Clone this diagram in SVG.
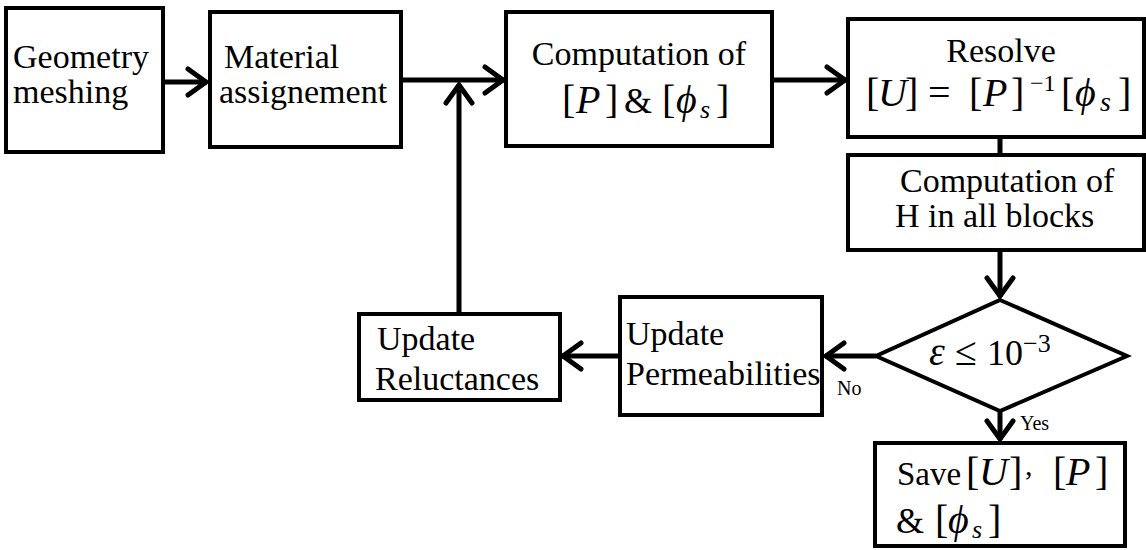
<svg xmlns="http://www.w3.org/2000/svg" width="1146" height="550" viewBox="0 0 1146 550" font-family="'Liberation Serif', 'DejaVu Serif', serif">
<style>
text{font-family:'Liberation Serif','DejaVu Serif',serif;fill:#000}
.box{fill:#fff;stroke:#000;stroke-width:4}
.t{font-size:34px}
.m{font-size:40px}
.i{font-style:italic}
.sm{font-size:20px}
.c{stroke:#000;stroke-width:5;fill:none}
</style>
<defs>
<marker id="ah" markerUnits="userSpaceOnUse" markerWidth="40" markerHeight="40" viewBox="-30 -20 40 40" refX="0" refY="0" orient="auto">
<path d="M-19,-13 L-1,0 L-19,13" fill="none" stroke="#000" stroke-width="5" stroke-linecap="round" stroke-linejoin="miter"/>
</marker>
</defs>
<rect width="1146" height="550" fill="#fff"/>
<g id="connectors">
<line class="c" x1="163" y1="82" x2="207" y2="82" marker-end="url(#ah)"/>
<line class="c" x1="401" y1="80" x2="504" y2="80" marker-end="url(#ah)"/>
<line class="c" x1="459" y1="314" x2="459" y2="84" marker-end="url(#ah)"/>
<line class="c" x1="772" y1="80" x2="846" y2="80" marker-end="url(#ah)"/>
<line class="c" x1="1000" y1="137" x2="1000" y2="155"/>
<line class="c" x1="1000" y1="250" x2="1000" y2="297" marker-end="url(#ah)"/>
<line class="c" x1="876" y1="356" x2="825" y2="356" marker-end="url(#ah)"/>
<line class="c" x1="620" y1="356" x2="562" y2="356" marker-end="url(#ah)"/>
<line class="c" x1="1000" y1="410" x2="1000" y2="440" marker-end="url(#ah)"/>
<text class="sm" x="837" y="395">No</text>
<text class="sm" x="1020" y="430">Yes</text>
</g>
<g id="geometry">
<rect class="box" x="6" y="8" width="157" height="144"/>
<text class="t" x="13" y="68">Geometry</text>
<text class="t" x="13" y="103">meshing</text>
</g>
<g id="material">
<rect class="box" x="210" y="12" width="191" height="135"/>
<text class="t" x="224" y="68">Material</text>
<text class="t" x="219" y="103">assignement</text>
</g>
<g id="computeP">
<rect class="box" x="506" y="12" width="266" height="134"/>
<text class="t" x="639" y="65" text-anchor="middle">Computation of</text>
<text class="m" y="113"><tspan x="562">[</tspan><tspan class="i" x="576">P</tspan><tspan x="605">]</tspan><tspan x="624" font-size="36">&amp;</tspan><tspan x="662">[</tspan><tspan class="i" x="676">ϕ</tspan><tspan class="i" x="700" dy="5" font-size="26">s</tspan><tspan x="716" dy="-5">]</tspan></text>
</g>
<g id="resolve">
<rect class="box" x="848" y="19" width="296" height="118"/>
<text class="t" x="1001" y="62" text-anchor="middle">Resolve</text>
<text class="m" y="106"><tspan x="866">[</tspan><tspan class="i" x="878">U</tspan><tspan x="905">]</tspan><tspan x="928">=</tspan><tspan x="969">[</tspan><tspan class="i" x="983">P</tspan><tspan x="1011">]</tspan><tspan x="1030" dy="-15" font-size="24">−1</tspan><tspan x="1061" dy="15">[</tspan><tspan class="i" x="1075">ϕ</tspan><tspan class="i" x="1100" dy="5" font-size="28">s</tspan><tspan x="1118" dy="-5">]</tspan></text>
</g>
<g id="computeH">
<rect class="box" x="848" y="155" width="296" height="95"/>
<text class="t" x="900" y="192">Computation of</text>
<text class="t" x="895" y="227">H in all blocks</text>
</g>
<g id="decision">
<polygon class="box" points="1000,300 1127,356 1000,411 876,356"/>
<text class="m" y="365" font-size="38"><tspan class="i" x="929">ε</tspan><tspan x="955">≤</tspan><tspan x="987" font-size="36">10</tspan><tspan x="1023" dy="-13" font-size="26">−3</tspan></text>
</g>
<g id="permeabilities">
<rect class="box" x="620" y="297" width="202" height="118"/>
<text class="t" x="626" y="345">Update</text>
<text class="t" x="626" y="385">Permeabilities</text>
</g>
<g id="reluctances">
<rect class="box" x="359" y="314" width="201" height="86"/>
<text class="t" x="377" y="350">Update</text>
<text class="t" x="375" y="390">Reluctances</text>
</g>
<g id="save">
<rect class="box" x="875" y="443" width="250" height="103"/>
<text class="m" y="485"><tspan x="897" font-size="33">Save</tspan><tspan x="966">[</tspan><tspan class="i" x="979">U</tspan><tspan x="1009">]</tspan><tspan x="1025" dy="-10" font-size="30">,</tspan><tspan x="1053" dy="10">[</tspan><tspan class="i" x="1066">P</tspan><tspan x="1095">]</tspan></text>
<text class="m" y="533"><tspan x="896" font-size="36">&amp;</tspan><tspan x="935">[</tspan><tspan class="i" x="948">ϕ</tspan><tspan class="i" x="972" dy="5" font-size="26">s</tspan><tspan x="988" dy="-5">]</tspan></text>
</g>
</svg>
